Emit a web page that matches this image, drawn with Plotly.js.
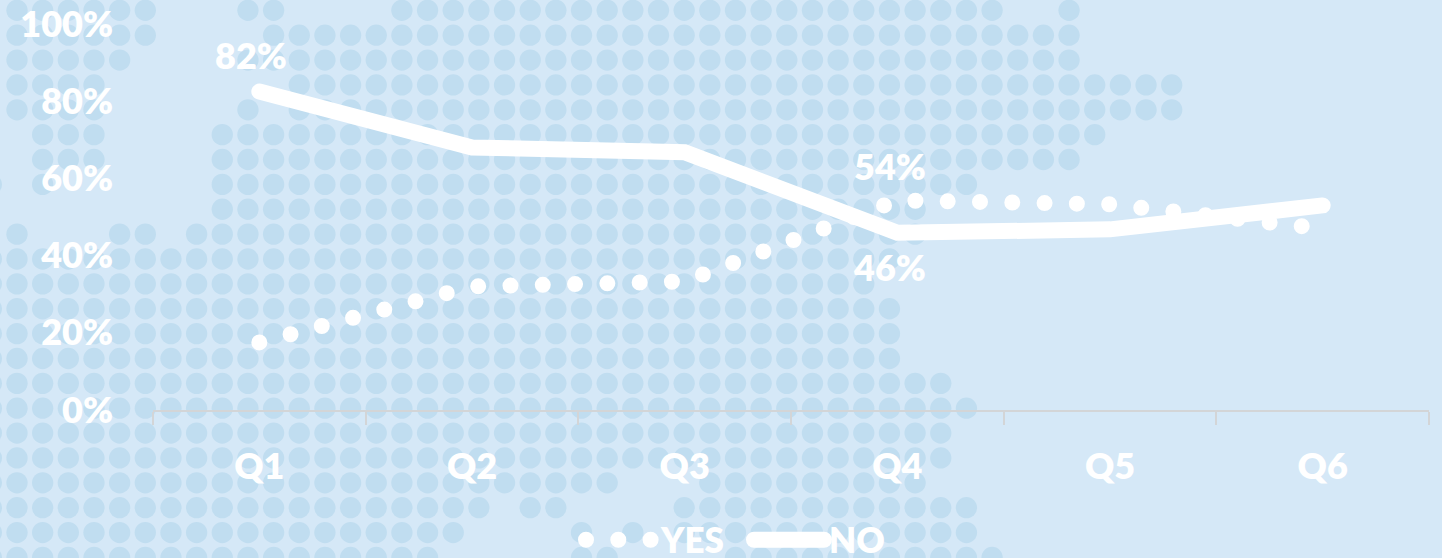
<!DOCTYPE html>
<html>
<head>
<meta charset="utf-8">
<script src="https://cdn.plot.ly/plotly-3.0.1.min.js"></script>
<style>
html,body{margin:0;padding:0;background:#D5E8F7;overflow:hidden}
#chart{width:1442px;height:558px}
.js-line{stroke-linecap:round}
.legendlines path{stroke-width:16px !important;stroke-linecap:round}
.legend .scrollbox{clip-path:none !important}
</style>
</head>
<body>
<div id="chart"></div>
<script>
const categories = ['Q1','Q2','Q3','Q4','Q5','Q6'];
const yesValues = [17.5, 32, 33.3, 54.3, 53.3, 47];
const noValues = [82.5, 68, 66.8, 45.9, 46.8, 53];
const yTicks = [0, 20, 40, 60, 80, 100];
const labelSeries = [
  {text:'82%', cat:0, val:82.5},
  {text:'54%', cat:3, val:54.3},
  {text:'46%', cat:3, val:45.9}
];
const labelShift = [[-8, 37], [-7, 34], [-8, -34]];
// Background dot-map: for each grid row, runs of occupied grid columns
const mapRows = [
  [[0,5],[9,10],[15,38],[41,41]],
  [[0,5],[10,41]],
  [[0,4],[9,41]],
  [[0,3],[11,45]],
  [[0,3],[9,9],[11,45]],
  [[1,3],[8,42]],
  [[1,3],[8,41]],
  [[-1,-1],[1,1],[8,37]],
  [[8,35]],
  [[0,0],[4,5],[7,35]],
  [[-1,34]],
  [[-1,33]],
  [[-1,34]],
  [[-1,34]],
  [[-1,34]],
  [[-1,36]],
  [[-1,37]],
  [[-1,36]],
  [[-1,36]],
  [[-1,23],[27,35]],
  [[-1,18],[20,21],[26,37]],
  [[-1,17],[22,22],[24,24],[26,37]],
  [[-1,16],[22,23],[28,38]]
];
const mapX = [], mapY = [];
mapRows.forEach((runs, r) => runs.forEach(([a, b]) => {
  for (let c = a; c <= b; c++) { mapX.push(c); mapY.push(r); }
}));

const W = 1442, H = 558;
const colStep = 25.66, rowStep = 24.87, col0 = 17, row0 = 10.3;
const white = '#FFFFFF';
const fontFam = 'Lato, Carlito, sans-serif';
const f = {family: fontFam, size: 36, color: white, weight: 800};
const fLegend = {family: fontFam, size: 35, color: white, weight: 800};

const traces = [
  {type:'scatter', mode:'markers', x:mapX, y:mapY, xaxis:'x', yaxis:'y', showlegend:false, hoverinfo:'skip',
   marker:{size:21.3, color:'#C0DDF0', line:{width:0}}},
  {type:'scatter', mode:'lines', name:'YES', x:categories, y:yesValues, xaxis:'x2', yaxis:'y2',
   line:{color:white, width:16, dash:'0px,32.3px'}},
  {type:'scatter', mode:'lines', name:'NO', x:categories, y:noValues, xaxis:'x2', yaxis:'y2',
   line:{color:white, width:16}}
];
const layout = {
  width:W, height:H, margin:{l:0,r:0,t:0,b:0,autoexpand:false},
  paper_bgcolor:'#D5E8F7', plot_bgcolor:'rgba(0,0,0,0)',
  font:{family:fontFam},
  xaxis:{domain:[0,1], range:[-col0/colStep,(W-col0)/colStep], visible:false, fixedrange:true},
  yaxis:{domain:[0,1], range:[(H-row0)/rowStep,-row0/rowStep], visible:false, fixedrange:true},
  xaxis2:{domain:[153/W,1429/W], anchor:'y2', type:'category', range:[-0.5,5.5], categoryorder:'array', categoryarray:categories,
    showline:true, linecolor:'#D3D5D7', linewidth:2, showgrid:false, zeroline:false,
    ticks:'outside', tickson:'boundaries', ticklen:13, tickwidth:2, tickcolor:'#D3D5D7',
    tickfont:f, ticklabelstandoff:24, fixedrange:true},
  yaxis2:{domain:[(H-410)/H,(H-24)/H], anchor:'x2', range:[0,100], tickvals:yTicks, ticktext:yTicks.map(v=>v+'%'),
    showline:false, showgrid:false, zeroline:false, ticks:'', tickfont:f, ticklabelstandoff:39, fixedrange:true},
  legend:{orientation:'h', x:581/W, xanchor:'left', y:1-540/H, yanchor:'middle', font:fLegend, bgcolor:'rgba(0,0,0,0)',
    itemwidth:70, entrywidth:83, entrywidthmode:'pixels', traceorder:'normal', borderwidth:0, tracegroupgap:0},
  annotations: labelSeries.map((l,i)=>({xref:'x2', yref:'y2', x:l.cat, y:l.val, text:l.text, showarrow:false,
    font:f, xshift:labelShift[i][0], yshift:labelShift[i][1]}))
};
Plotly.newPlot('chart', traces, layout, {displayModeBar:false});
</script>
</body>
</html>
